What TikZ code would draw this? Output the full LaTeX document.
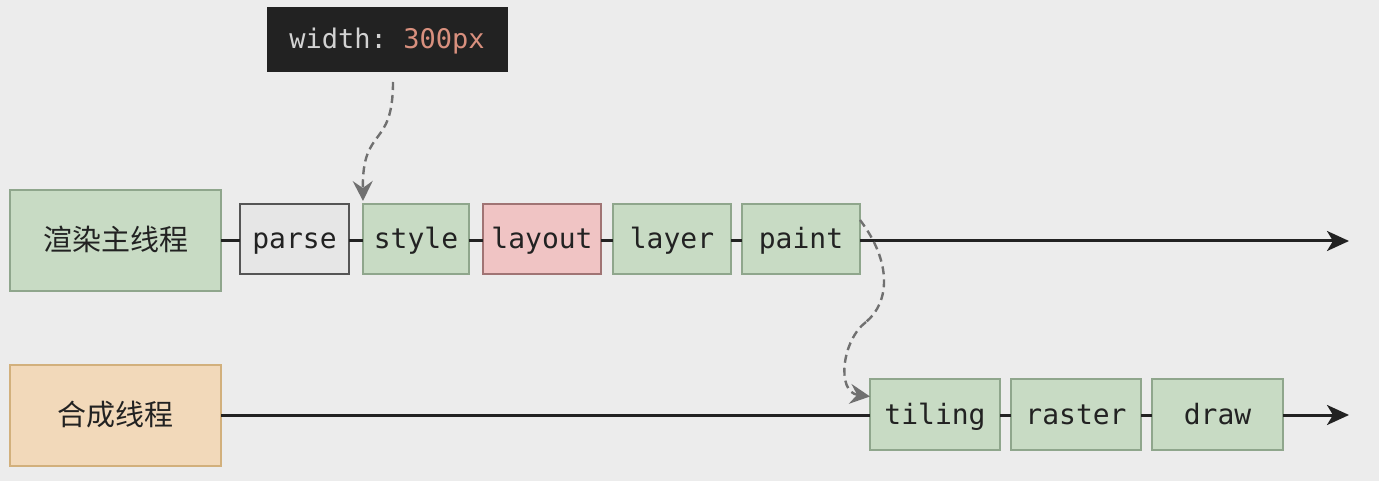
\documentclass[tikz,border=0pt]{standalone}
\usepackage{fontspec}
\setmonofont{DejaVu Sans Mono}
\newfontfamily\cjk{Noto Sans CJK SC}
\usetikzlibrary{arrows.meta}
\definecolor{bgc}{HTML}{ECECEC}
\definecolor{gfill}{HTML}{C8DBC4}
\definecolor{gdraw}{HTML}{8FA68C}
\definecolor{pfill}{HTML}{F0C4C4}
\definecolor{pdraw}{HTML}{A07474}
\definecolor{ofill}{HTML}{F2D9BA}
\definecolor{odraw}{HTML}{D2B07C}
\definecolor{wfill}{HTML}{E6E6E6}
\definecolor{wdraw}{HTML}{555555}
\definecolor{codebg}{HTML}{222222}
\definecolor{codekey}{HTML}{D2D2D2}
\definecolor{codeval}{HTML}{D9907E}
\definecolor{linec}{HTML}{222222}
\definecolor{dashc}{HTML}{707070}
\begin{document}
\begin{tikzpicture}[x=1pt,y=-1pt,
  box/.style={inner sep=0pt,outer sep=0pt,line width=2pt,font=\ttfamily\fontsize{28}{30}\selectfont,text=linec,text height=24pt,text depth=4pt},
  stepbox/.style={box,minimum height=70pt},
  green/.style={fill=gfill,draw=gdraw},
  thread/.style={box,minimum width=211pt,minimum height=101pt,font=\cjk\fontsize{29}{30}\selectfont,text height=24pt,text depth=4pt},
  conn/.style={draw=linec,line width=3pt},
  mainarrow/.style={conn,-{Stealth[length=22pt,width=20pt,inset=6pt]}},
  dashline/.style={draw=dashc,line width=2.4pt,dash pattern=on 8pt off 5pt},
  dasharrow/.style={dashline,-{Stealth[length=20pt,width=20pt,inset=7pt,fill=dashc]}}
]
\fill[bgc] (0,0) rectangle (1379,481);
\useasboundingbox (0,0) rectangle (1379,481);

% top row
\node[thread,green] (main) at (115.5,240.5) {渲染主线程};
\node[stepbox,fill=wfill,draw=wdraw,minimum width=109pt] (parse) at (294.5,239) {parse};
\node[stepbox,green,minimum width=106pt] (style) at (416,239) {style};
\node[stepbox,fill=pfill,draw=pdraw,minimum width=118pt] (layout) at (542,239) {layout};
\node[stepbox,green,minimum width=118pt] (layer) at (672,239) {layer};
\node[stepbox,green,minimum width=118pt] (paint) at (801,239) {paint};
\coordinate (mainend) at (1349,241);

% bottom row
\node[thread,fill=ofill,draw=odraw] (comp) at (115.5,415.5) {合成线程};
\node[stepbox,green,minimum width=130pt,minimum height=71pt] (tiling) at (935,414.5) {tiling};
\node[stepbox,green,minimum width=130pt,minimum height=71pt] (raster) at (1076,414.5) {raster};
\node[stepbox,green,minimum width=131pt,minimum height=71pt] (drawn) at (1217.5,414.5) {draw};
\coordinate (compend) at (1349,415);

% code box
\node[inner sep=0pt,outer sep=0pt,fill=codebg,draw=codebg,minimum width=240pt,minimum height=64pt,font=\ttfamily\fontsize{27}{30}\selectfont,text height=22pt,text depth=3pt] (wbox) at (387,39) {\textcolor{codekey}{width:} \textcolor{codeval}{300px}};

% connectors
\draw[conn] (main.east |- 0,241) -- (parse.west |- 0,241);
\draw[conn] (parse.east |- 0,241) -- (style.west |- 0,241);
\draw[conn] (style.east |- 0,241) -- (layout.west |- 0,241);
\draw[conn] (layout.east |- 0,241) -- (layer.west |- 0,241);
\draw[conn] (layer.east |- 0,241) -- (paint.west |- 0,241);
\draw[mainarrow] (paint.east |- 0,241) -- (mainend);

\draw[conn] (comp.east |- 0,415) -- (tiling.west |- 0,415);
\draw[conn] (tiling.east |- 0,415) -- (raster.west |- 0,415);
\draw[conn] (raster.east |- 0,415) -- (drawn.west |- 0,415);
\draw[mainarrow] (drawn.east |- 0,415) -- (compend);

% dashed arrows
\coordinate (d1s) at ([xshift=6pt,yshift=-11pt]wbox.south);
\coordinate (d1e) at (style.north west);
\draw[dasharrow] (d1s) .. controls (393,150) and (362,125) .. ([yshift=3pt]d1e);

\coordinate (d2s) at ([yshift=-16pt]paint.north east);
\coordinate (d2m) at (866,322);
\coordinate (d2e) at ([yshift=18pt]tiling.west);
\draw[dashline] (d2s) .. controls (892,262) and (890,302) .. (d2m);
\draw[dasharrow] (d2m) .. controls (842,340) and (836,392) .. (d2e);
\end{tikzpicture}
\end{document}
